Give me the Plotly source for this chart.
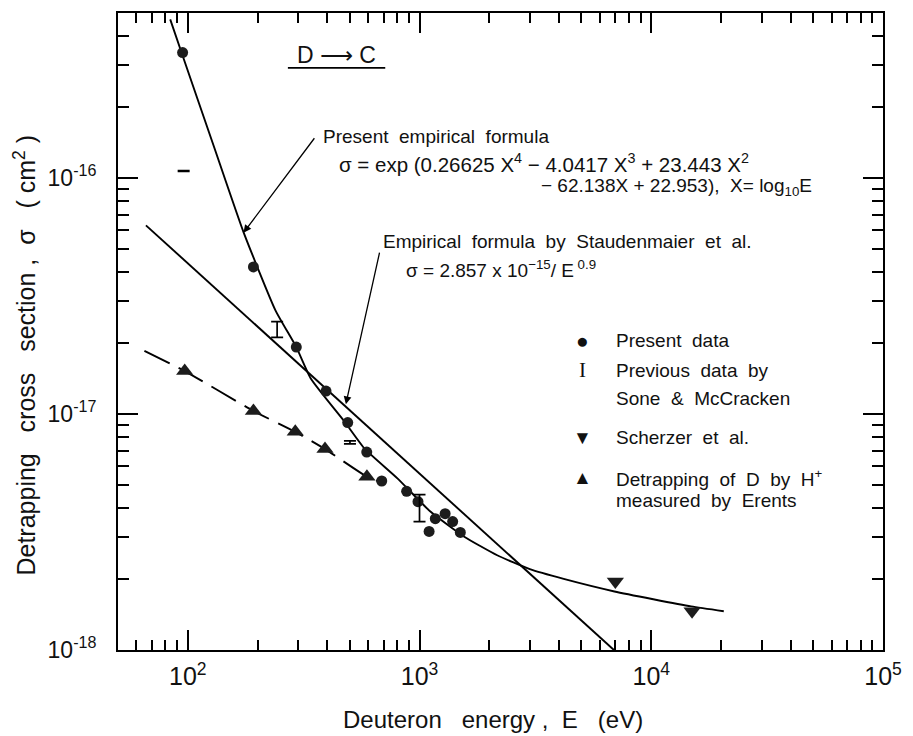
import numpy as np
import plotly.graph_objects as go

# ---------------- data ----------------
present_E = [95, 192, 294, 395, 490, 592, 687, 880, 985, 1100, 1170, 1290, 1390, 1500]
present_sigma = [3.4e-16, 4.2e-17, 1.92e-17, 1.25e-17, 9.2e-18, 6.9e-18, 5.2e-18,
                 4.7e-18, 4.25e-18, 3.18e-18, 3.6e-18, 3.78e-18, 3.5e-18, 3.15e-18]

sone_E = [96, 243, 501, 1000]
sone_sigma = [1.07e-16, 2.28e-17, 7.58e-18, 4.0e-18]
sone_plus = [0.005e-16, 0.18e-17, 0.11e-18, 0.55e-18]
sone_minus = [0.005e-16, 0.17e-17, 0.11e-18, 0.5e-18]

scherzer_E = [7000, 15000]
scherzer_sigma = [1.95e-18, 1.46e-18]

erents_E = [97, 192, 291, 391, 593]
erents_sigma = [1.52e-17, 1.03e-17, 8.4e-18, 7.1e-18, 5.42e-18]

# dashed guide through Erents data
erents_line_E = [65, 97, 192, 291, 391, 593, 660]
erents_line_sigma = [1.85e-17, 1.52e-17, 1.03e-17, 8.4e-18, 7.1e-18, 5.42e-18, 5.2e-18]

# present empirical formula curve
formula_E = [84, 94, 129, 174, 239, 294, 340, 476, 581, 805, 1114, 1560, 2163, 2993,
             4190, 6935, 14860, 20560]
formula_sigma = [4.7e-16, 3.40e-16, 1.38e-16, 5.9e-17, 2.75e-17, 1.92e-17, 1.41e-17,
                 9.25e-18, 7.11e-18, 5.32e-18, 3.86e-18, 3.02e-18, 2.52e-18, 2.2e-18,
                 2.0e-18, 1.77e-18, 1.53e-18, 1.46e-18]

# Staudenmaier et al. straight line (end points)
staud_E = [66, 6900]
staud_sigma = [6.3e-17, 1.0e-18]

x_major = [1e2, 1e3, 1e4, 1e5]
x_major_text = ["10<sup>2</sup>", "10<sup>3</sup>", "10<sup>4</sup>", "10<sup>5</sup>"]
y_major = [1e-18, 1e-17, 1e-16]
y_major_text = ["10<sup>-18</sup>", "10<sup>-17</sup>", "10<sup>-16</sup>"]

x_minor = [m * 10 ** d for d in (1, 2, 3, 4) for m in range(2, 10) if 50 < m * 10 ** d < 1e5]
y_minor = [m * 10.0 ** d for d in (-18, -17, -16) for m in range(2, 10) if m * 10.0 ** d <= 5e-16]

# ---------------- figure ----------------
FONT = "Liberation Sans, Arial, DejaVu Sans, sans-serif"
L, R, T, B = 118, 888, 11, 650
W, H = R - L, B - T


def px(x):
    return (x - L) / W


def py(y):
    return (B - y) / H


fig = go.Figure()

fig.add_trace(go.Scatter(x=formula_E, y=formula_sigma, mode="lines",
                         line=dict(color="black", width=1.9, shape="spline", smoothing=0.5),
                         showlegend=False))
fig.add_trace(go.Scatter(x=staud_E, y=staud_sigma, mode="lines",
                         line=dict(color="black", width=1.9), showlegend=False))
fig.add_trace(go.Scatter(x=erents_line_E, y=erents_line_sigma, mode="lines",
                         line=dict(color="black", width=1.9, dash="28px,10px",
                                   shape="spline", smoothing=0.5),
                         showlegend=False))
fig.add_trace(go.Scatter(x=present_E, y=present_sigma, mode="markers",
                         marker=dict(symbol="circle", size=11, color="#1c1c1c"),
                         showlegend=False))
fig.add_trace(go.Scatter(x=erents_E, y=erents_sigma, mode="markers",
                         marker=dict(symbol="triangle-up", size=15, color="#1c1c1c"),
                         showlegend=False))
fig.add_trace(go.Scatter(x=scherzer_E, y=scherzer_sigma, mode="markers",
                         marker=dict(symbol="triangle-down", size=15, color="#1c1c1c"),
                         showlegend=False))
fig.add_trace(go.Scatter(x=sone_E, y=sone_sigma, mode="markers",
                         marker=dict(size=1, color="rgba(0,0,0,0)"),
                         error_y=dict(type="data", symmetric=False, array=sone_plus,
                                      arrayminus=sone_minus, color="black",
                                      thickness=1.7, width=6),
                         showlegend=False))

axis_common = dict(showgrid=False, zeroline=False, showline=True, linecolor="black",
                   linewidth=2, mirror="ticks", ticks="inside", ticklen=20,
                   tickwidth=1.7, tickcolor="black")

fig.update_xaxes(type="log", range=[np.log10(50), 5], tickmode="array",
                 tickvals=x_major, ticktext=x_major_text, ticklabelstandoff=3,
                 tickfont=dict(family=FONT, size=25, color="#111"),
                 minor=dict(ticks="inside", ticklen=10, tickvals=x_minor,
                            tickcolor="black", tickwidth=1.7),
                 **axis_common)
fig.update_yaxes(type="log", range=[-18, np.log10(5e-16)], tickmode="array",
                 tickvals=y_major, ticktext=y_major_text, ticklabelstandoff=15,
                 tickfont=dict(family=FONT, size=23, color="#111"),
                 minor=dict(ticks="inside", ticklen=11, tickvals=y_minor,
                            tickcolor="black", tickwidth=1.7),
                 **axis_common)

ann = []


def text(x, y, s, size=19, anchor="left", angle=0, family=FONT):
    ann.append(dict(x=px(x), y=py(y), xref="paper", yref="paper", text=s,
                    showarrow=False, xanchor=anchor, yanchor="middle",
                    textangle=angle, font=dict(family=family, size=size, color="#111")))


text(322, 135, "Present  empirical  formula")
text(338, 161, "σ = exp (0.26625 X<sup>4</sup> − 4.0417 X<sup>3</sup> + 23.443 X<sup>2</sup>",
     size=20.5)
text(542, 186, "− 62.138X + 22.953),  X= log<sub>10</sub>E")
text(383, 240, "Empirical  formula  by  Staudenmaier  et  al.")
text(406, 268, "σ = 2.857 x 10<sup>−15</sup>/ E<sup> 0.9</sup>")

text(617, 340, "Present  data")
text(617, 370, "Previous  data  by")
text(617, 398, "Sone  &  McCracken")
text(617, 437, "Scherzer  et  al.")
text(617, 477, "Detrapping  of  D  by  H<sup>+</sup>")
text(617, 500, "measured  by  Erents")

text(586, 340, "●", size=21, anchor="center")
text(586, 369, "I", size=21, anchor="center", family="Liberation Serif, serif")
text(586, 437, "▼", size=19, anchor="center")
text(586, 477, "▲", size=19, anchor="center")

text(338, 53, "D ⟶ C", size=23, anchor="center")

text(24, 354, "Detrapping   cross   section ,  σ   ( cm<sup>2</sup> )", size=25,
     anchor="center", angle=-90)
text(495, 720, "Deuteron   energy ,  E   (eV)", size=24, anchor="center")

# arrows pointing at the curves
ann.append(dict(x=np.log10(174), y=np.log10(5.86e-17), xref="x", yref="y",
                ax=72, ay=-96, text="", showarrow=True, arrowhead=2, arrowsize=1.2,
                arrowwidth=1.3, arrowcolor="black"))
ann.append(dict(x=np.log10(481), y=np.log10(1.10e-17), xref="x", yref="y",
                ax=34, ay=-153, text="", showarrow=True, arrowhead=2, arrowsize=1.2,
                arrowwidth=1.3, arrowcolor="black"))

fig.update_layout(
    width=913, height=736,
    margin=dict(l=L, r=913 - R, t=T, b=736 - B),
    paper_bgcolor="white", plot_bgcolor="white",
    annotations=ann,
    shapes=[dict(type="line", xref="paper", yref="paper",
                 x0=px(289), x1=px(387), y0=py(66), y1=py(66),
                 line=dict(color="black", width=1.8))],
    showlegend=False,
)

fig.write_html("out.html")
